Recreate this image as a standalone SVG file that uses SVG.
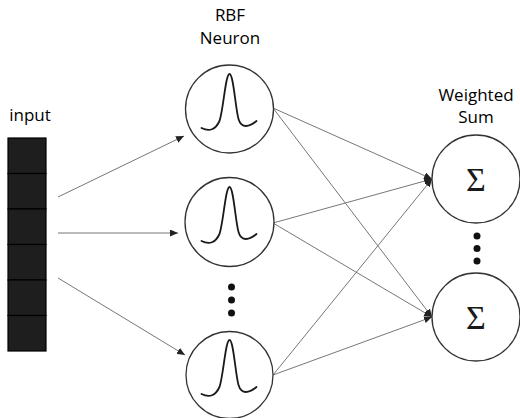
<svg xmlns="http://www.w3.org/2000/svg" width="520" height="418" viewBox="0 0 520 418">
<defs>
<style>
.lbl{font-family:"Open Sans","Noto Sans","DejaVu Sans",sans-serif;font-size:17px;fill:#000;text-anchor:middle}
.cell{fill:#1e1e1e;stroke:#000;stroke-width:1.2}
.node{fill:#fff;stroke:#333;stroke-width:1.3}
.gauss{fill:none;stroke:#1a1a1a;stroke-width:1.8;stroke-linecap:round}
.conn{stroke:#777;stroke-width:1;fill:none}
.dot{fill:#111}
.sig{font-family:"Liberation Serif","DejaVu Serif",serif;font-size:34px;fill:#1a1a1a;text-anchor:middle}
</style>
<marker id="ah" markerUnits="userSpaceOnUse" markerWidth="8" markerHeight="7" refX="8" refY="3.5" orient="auto">
<path d="M0,0 L8,3.5 L0,7 z" fill="#222"/>
</marker>
<path id="g" class="gauss" d="M-28,19 Q-16,25 -10,12 C-6,0 -4,-35 0,-35 C4,-35 6,0 9,10 C12,20 20,18 27,12"/>
</defs>
<rect width="520" height="418" fill="#fff"/>

<g id="input">
<text class="lbl" x="30" y="121">input</text>
<rect class="cell" x="8" y="138" width="38" height="35.5"/>
<rect class="cell" x="8" y="173.5" width="38" height="35.5"/>
<rect class="cell" x="8" y="209" width="38" height="35.5"/>
<rect class="cell" x="8" y="244.5" width="38" height="35.5"/>
<rect class="cell" x="8" y="280" width="38" height="35.5"/>
<rect class="cell" x="8" y="315.5" width="38" height="35.5"/>
</g>

<g id="rbf-label">
<text class="lbl" x="230" y="20.5">RBF</text>
<text class="lbl" x="230" y="44">Neuron</text>
</g>
<g id="sum-label">
<text class="lbl" x="476" y="101">Weighted</text>
<text class="lbl" x="476" y="123">Sum</text>
</g>

<g id="connectors">
<line class="conn" x1="58" y1="197" x2="184" y2="136" marker-end="url(#ah)"/>
<line class="conn" x1="58" y1="233" x2="178" y2="233" marker-end="url(#ah)"/>
<line class="conn" x1="58" y1="278" x2="185" y2="355" marker-end="url(#ah)"/>
<line class="conn" x1="273" y1="108" x2="432" y2="179" marker-end="url(#ah)"/>
<line class="conn" x1="273" y1="108" x2="432" y2="317" marker-end="url(#ah)"/>
<line class="conn" x1="273" y1="223" x2="432" y2="179" marker-end="url(#ah)"/>
<line class="conn" x1="273" y1="223" x2="432" y2="317" marker-end="url(#ah)"/>
<line class="conn" x1="273" y1="375" x2="432" y2="179" marker-end="url(#ah)"/>
<line class="conn" x1="273" y1="375" x2="432" y2="317" marker-end="url(#ah)"/>
</g>

<g id="rbf1" transform="translate(229.5,109)">
<circle class="node" r="44"/>
<use href="#g"/>
</g>
<g id="rbf2" transform="translate(229.5,222)">
<circle class="node" r="44.5"/>
<use href="#g"/>
</g>
<g id="rbf-dots">
<circle class="dot" cx="231.5" cy="287" r="3.5"/>
<circle class="dot" cx="231.5" cy="300" r="3.5"/>
<circle class="dot" cx="231.5" cy="313" r="3.5"/>
</g>
<g id="rbf3" transform="translate(229.5,375)">
<circle class="node" r="43.5"/>
<use href="#g"/>
</g>

<g id="sum1" transform="translate(476,179)">
<circle class="node" r="44"/>
<text class="sig" x="0" y="11.5">Σ</text>
</g>
<g id="sum-dots">
<circle class="dot" cx="477" cy="236" r="3.5"/>
<circle class="dot" cx="477" cy="248.5" r="3.5"/>
<circle class="dot" cx="477" cy="261" r="3.5"/>
</g>
<g id="sum2" transform="translate(476,317)">
<circle class="node" r="44"/>
<text class="sig" x="0" y="11.5">Σ</text>
</g>
</svg>
